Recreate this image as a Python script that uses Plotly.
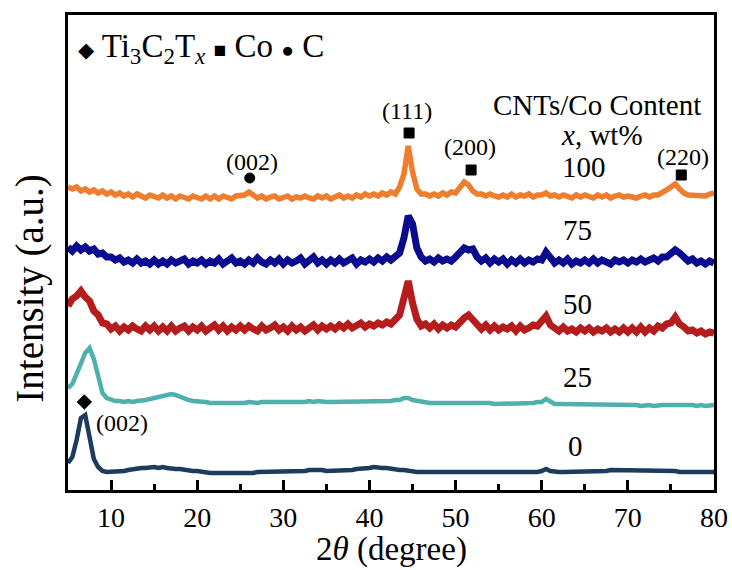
import numpy as np
import plotly.graph_objects as go

# 2-theta sampling grid (degrees)
two_theta = np.arange(5.0, 80.01, 0.5)

# Stacked XRD intensities (a.u., offset per sample), one value per grid point
int_0 = [
    27, 33, 50, 72, 75, 50, 31, 23, 19, 18,
    18, 19, 18, 19, 20, 21, 21, 22, 22, 23,
    23, 22, 23, 22, 21, 21, 21, 20, 20, 19,
    19, 18, 18, 17, 17, 17, 16, 16, 16, 16,
    16, 17, 17, 17, 18, 18, 18, 18, 18, 18,
    18, 19, 18, 19, 19, 19, 20, 20, 21, 20,
    19, 19, 19, 19, 19, 20, 20, 21, 21, 22,
    22, 23, 22, 22, 22, 21, 21, 20, 20, 19,
    19, 18, 18, 18, 17, 17, 17, 17, 17, 17,
    17, 17, 17, 17, 17, 17, 17, 17, 17, 17,
    17, 17, 18, 18, 18, 18, 18, 18, 18, 18,
    19, 21, 19, 18, 18, 18, 18, 18, 18, 18,
    18, 19, 19, 19, 19, 19, 20, 20, 20, 20,
    20, 20, 20, 19, 19, 19, 19, 19, 19, 19,
    19, 19, 18, 18, 18, 18, 18, 18, 18, 18,
    18,
]
int_25 = [
    102, 106, 116, 127, 137, 142, 131, 114, 97, 92,
    90, 89, 89, 88, 89, 88, 89, 89, 90, 91,
    92, 93, 94, 95, 96, 95, 93, 92, 90, 89,
    89, 88, 88, 87, 87, 87, 87, 86, 87, 87,
    87, 87, 88, 87, 87, 88, 88, 87, 88, 88,
    88, 88, 87, 88, 88, 88, 89, 88, 89, 88,
    88, 88, 88, 88, 89, 88, 88, 89, 89, 88,
    88, 88, 88, 88, 89, 89, 90, 90, 92, 92,
    90, 89, 88, 88, 87, 87, 87, 87, 88, 87,
    87, 87, 88, 87, 87, 87, 87, 87, 87, 86,
    86, 87, 87, 86, 86, 87, 87, 86, 87, 88,
    88, 91, 88, 86, 86, 86, 86, 85, 86, 86,
    85, 86, 85, 85, 85, 85, 86, 85, 85, 85,
    85, 85, 85, 84, 85, 85, 84, 85, 85, 85,
    85, 85, 86, 85, 85, 85, 84, 85, 84, 84,
    85,
]
int_50 = [
    184, 191, 194, 199, 193, 189, 179, 175, 167, 166,
    161, 164, 159, 163, 160, 164, 161, 159, 164, 160,
    164, 159, 163, 159, 164, 159, 162, 164, 159, 163,
    160, 164, 159, 162, 165, 160, 164, 159, 163, 160,
    164, 160, 164, 161, 159, 164, 160, 162, 165, 160,
    163, 159, 164, 160, 163, 159, 162, 165, 160, 164,
    161, 164, 161, 165, 162, 166, 162, 165, 167, 163,
    166, 164, 167, 165, 168, 166, 170, 175, 192, 209,
    187, 171, 164, 166, 162, 166, 161, 165, 162, 165,
    163, 168, 172, 175, 170, 166, 161, 165, 160, 164,
    160, 163, 161, 164, 159, 164, 160, 162, 165, 164,
    169, 174, 165, 162, 159, 163, 159, 161, 158, 162,
    159, 162, 158, 161, 159, 162, 158, 161, 158, 162,
    158, 162, 158, 163, 158, 162, 159, 164, 162, 166,
    167, 173, 166, 163, 159, 160, 157, 159, 156, 158,
    157,
]
int_75 = [
    243, 239, 244, 240, 243, 239, 241, 236, 237, 233,
    233, 230, 232, 228, 230, 227, 231, 227, 229, 226,
    230, 226, 229, 226, 230, 227, 229, 231, 226, 229,
    227, 230, 226, 229, 227, 231, 226, 229, 232, 227,
    229, 226, 230, 227, 232, 228, 226, 230, 227, 231,
    226, 230, 227, 229, 232, 226, 230, 233, 227, 230,
    226, 230, 227, 231, 227, 229, 232, 226, 230, 228,
    231, 228, 232, 229, 233, 230, 234, 237, 252, 274,
    266, 242, 233, 229, 231, 228, 232, 229, 231, 229,
    233, 237, 242, 240, 241, 233, 229, 232, 227, 231,
    228, 231, 226, 230, 227, 231, 227, 230, 228, 231,
    230, 238, 232, 227, 230, 227, 231, 226, 229, 227,
    230, 227, 231, 227, 230, 228, 226, 230, 228, 230,
    227, 230, 228, 231, 228, 230, 232, 229, 233, 233,
    236, 240, 237, 233, 229, 231, 227, 229, 226, 229,
    227,
]
int_100 = [
    303, 301, 303, 299, 301, 298, 300, 297, 299, 296,
    298, 295, 297, 294, 296, 293, 296, 294, 292, 295,
    294, 292, 295, 292, 294, 291, 294, 292, 291, 294,
    293, 291, 294, 291, 294, 291, 294, 292, 291, 294,
    294, 295, 298, 295, 292, 294, 291, 293, 294, 291,
    293, 294, 291, 293, 292, 294, 292, 291, 294, 292,
    294, 291, 293, 295, 292, 294, 292, 295, 293, 296,
    294, 296, 294, 297, 295, 298, 296, 303, 316, 344,
    318, 301, 296, 296, 294, 296, 294, 297, 295, 298,
    297, 302, 308, 305, 299, 296, 296, 294, 296, 294,
    293, 295, 293, 296, 293, 295, 294, 296, 293, 295,
    295, 297, 294, 295, 293, 295, 293, 292, 295, 293,
    295, 293, 292, 295, 293, 295, 292, 294, 295, 293,
    294, 293, 292, 294, 295, 293, 295, 295, 297, 300,
    303, 306, 301, 297, 295, 295, 294, 295, 294, 296,
    297,
]

sample_labels = ["0", "25", "50", "75", "100"]
sample_series = [int_0, int_25, int_50, int_75, int_100]
sample_colors = ["#1D3B5E", "#4FB0AE", "#B51D1D", "#0B0B8F", "#EE7D2E"]
sample_widths = [4.5, 4.5, 7, 7, 5.5]
sample_label_pos = [(63.9, 44), (64.2, 113), (64.2, 186), (64.2, 260), (64.9, 323)]

# Indexed reflections: phase marker position and (hkl) label
peak_symbols = ["diamond", "circle", "square", "square", "square"]
peak_x = [6.9, 26.1, 44.6, 51.8, 76.2]
peak_y = [88, 312, 357, 320, 315]
peak_hkl = ["(002)", "(002)", "(111)", "(200)", "(220)"]
hkl_pos = [(11.3, 67), (26.4, 328), (44.3, 379), (51.7, 343), (76.4, 333)]

SERIF = "Liberation Serif, Times New Roman, Times, serif"

fig = go.Figure()

for lab, ys, col, w in zip(sample_labels, sample_series, sample_colors, sample_widths):
    fig.add_trace(go.Scatter(
        x=two_theta, y=ys, mode="lines", name=lab,
        line=dict(color=col, width=w), showlegend=False,
    ))

fig.add_trace(go.Scatter(
    x=peak_x, y=peak_y, mode="markers", showlegend=False,
    marker=dict(symbol=peak_symbols, size=[11, 10, 10, 10, 10], color="#000000",
                opacity=1, line=dict(color="#000000", width=1)),
))

annotations = []
for lab, (lx, ly) in zip(sample_labels, sample_label_pos):
    annotations.append(dict(x=lx, y=ly, text=lab, showarrow=False,
                            font=dict(family=SERIF, size=29, color="black")))
for txt, (hx, hy) in zip(peak_hkl, hkl_pos):
    annotations.append(dict(x=hx, y=hy, text=txt, showarrow=False,
                            font=dict(family=SERIF, size=24, color="black")))
annotations.append(dict(x=66.4, y=385, text="CNTs/Co Content", showarrow=False,
                        font=dict(family=SERIF, size=29, color="black")))
annotations.append(dict(x=67.0, y=355, text="<i>x</i>, wt%", showarrow=False,
                        font=dict(family=SERIF, size=29, color="black")))
annotations.append(dict(
    xref="paper", yref="paper", x=0.012, y=0.93, xanchor="left", yanchor="middle",
    text=("<span style='font-size:21px'>◆</span> Ti<sub>3</sub>C<sub>2</sub>T<sub><i>x</i></sub>"
          " <span style='font-size:21px'>■</span> Co <span style='font-size:21px'>●</span> C"),
    showarrow=False, font=dict(family=SERIF, size=33, color="black"),
))
# Axis titles
annotations.append(dict(
    xref="paper", yref="paper", x=-0.058, y=0.425, xanchor="center", yanchor="middle",
    text="Intensity (a.u.)", textangle=-90, showarrow=False,
    font=dict(family=SERIF, size=39, color="black"),
))
annotations.append(dict(
    xref="paper", yref="paper", x=0.5, y=-0.126, xanchor="center", yanchor="middle",
    text="2<i>θ</i> (degree)", showarrow=False,
    font=dict(family=SERIF, size=33, color="black"),
))

fig.update_layout(
    width=732, height=570,
    margin=dict(l=68, r=18, t=15, b=80, autoexpand=False),
    paper_bgcolor="white", plot_bgcolor="white",
    annotations=annotations,
    xaxis=dict(
        range=[5, 80], tickmode="linear", tick0=10, dtick=10, automargin=False,
        ticks="inside", ticklen=10, tickwidth=2.5, tickcolor="black",
        minor=dict(dtick=5, tick0=5, ticks="inside", ticklen=6, tickwidth=2.5, tickcolor="black"),
        showline=True, linewidth=3, linecolor="black", mirror=True,
        showgrid=False, zeroline=False,
        tickfont=dict(family=SERIF, size=28, color="black"),
    ),
    yaxis=dict(
        range=[0, 475], showticklabels=False, ticks="", automargin=False,
        showline=True, linewidth=3, linecolor="black", mirror=True,
        showgrid=False, zeroline=False,
    ),
)

fig.write_html("out.html")
